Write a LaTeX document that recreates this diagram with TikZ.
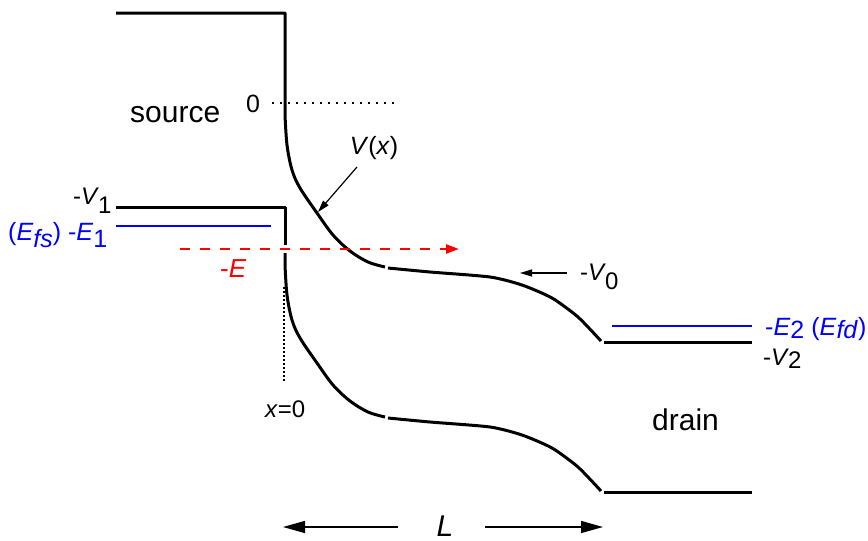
\documentclass[tikz,border=0pt]{standalone}
\usepackage{fontspec}
\setmainfont{Liberation Sans}
\usetikzlibrary{arrows.meta}
\newcommand\dn[2][0.4em]{\raisebox{-#1}{#2}}
\newcommand\fsz[1]{\fontsize{#1}{#1}\selectfont}
\begin{document}
\begin{tikzpicture}[x=1pt,y=-1pt,
 band/.style={line width=3pt, line join=round},
 fermi/.style={line width=2.5pt, blue},
 lbl/.style={inner sep=0pt, anchor=base west, font=\fsz{24}},
 elbl/.style={lbl, font=\fsz{25}},
 thinarrow/.style={line width=1.2pt,-{Triangle[length=12pt,width=7pt]}},
 bigarrow/.style={line width=1.3pt,-{Triangle[length=22pt,width=12pt]}},
]
\useasboundingbox (0,0) rectangle (868,541);
% conduction band
\draw[band] (116,13) -- (285,13) -- (285,115) -- plot[smooth,tension=0.55] coordinates {(285,115) (287,145) (292,170) (300,188) (317,213) (333,235) (350,251) (368,262) (385,267)};
\draw[band] plot[smooth,tension=0.4] coordinates {(388,268) (430,272) (490,277) (522,285) (552,298) (578,317) (601,341)};
\draw[band] (604,342) -- (752,342);
% valence band
\draw[band] (116,207) -- (285,207) -- (285,245);
\draw[band] (285,253) -- (285,265) -- plot[smooth,tension=0.55] coordinates {(285,265) (287,295) (292,320) (300,338) (317,363) (333,385) (350,401) (368,412) (385,417)};
\draw[band] plot[smooth,tension=0.4] coordinates {(388,418) (430,422) (490,427) (522,435) (552,448) (578,467) (601,491)};
\draw[band] (604,492) -- (752,492);
% fermi levels
\draw[fermi] (116,226) -- (271,226);
\draw[fermi] (612,326) -- (752,326);
% energy E
\coordinate (es) at (180,249);
\coordinate (ee) at (459,249);
\draw[red, line width=2.5pt, dash pattern=on 10pt off 10pt, -{Triangle[length=13pt,width=9pt]}] (es) -- (ee);
% dotted references
\draw[line width=2pt, dash pattern=on 2pt off 6pt] (272,102.5) -- (397,102.5);
\draw[line width=1.5pt, dash pattern=on 1.5pt off 2.5pt] (284,287) -- (284,382);
% labels
\node[lbl, font=\fsz{30}] (src) at (130,122) {source};
\node[lbl, font=\fsz{30}] (drn) at (652,430) {drain};
\node[inner sep=0pt, font=\fsz{25}] (zero) at (253,104) {0};
\node[inner sep=0pt, font=\fsz{25}] (vx) at (374,148) {\textit{V}(\textit{x})};
\node[lbl] (v1) at (73,204) {-\textit{V}\kern-1pt\dn[0.38em]{1}};
\node[elbl, blue] (e1) at (8,240) {(\textit{E}\dn[0.3em]{\textit{fs}}) -\textit{E}\dn[0.3em]{1}};
\node[elbl, red, font=\fsz{26}] (e) at (220,277) {-\textit{E}};
\node[lbl] (v0) at (580,280) {-\textit{V}\kern-1pt\dn[0.38em]{0}};
\node[elbl, blue] (e2) at (765,335) {-\textit{E}\dn[0.12em]{2} (\textit{E}\dn[0.12em]{\textit{fd}})};
\node[lbl] (v2) at (763,365) {-\textit{V}\kern-1pt\dn[0.15em]{2}};
\node[lbl, font=\fsz{24}] (x0) at (265,417) {\textit{x}=0};
\node[inner sep=0pt, anchor=base, font=\fsz{30}] (L) at (445,536) {\textit{L}};
% arrows
\coordinate (vxs) at (357,167);
\coordinate (vxe) at (318,212);
\draw[thinarrow] (vxs) -- (vxe);
\coordinate (v0s) at (567,273);
\coordinate (v0e) at (520,273);
\draw[thinarrow] (v0s) -- (v0e);
\coordinate (lls) at (398,527);
\coordinate (lle) at (283,527);
\coordinate (lrs) at (485,527);
\coordinate (lre) at (603,527);
\draw[bigarrow] (lls) -- (lle);
\draw[bigarrow] (lrs) -- (lre);
\end{tikzpicture}
\end{document}
